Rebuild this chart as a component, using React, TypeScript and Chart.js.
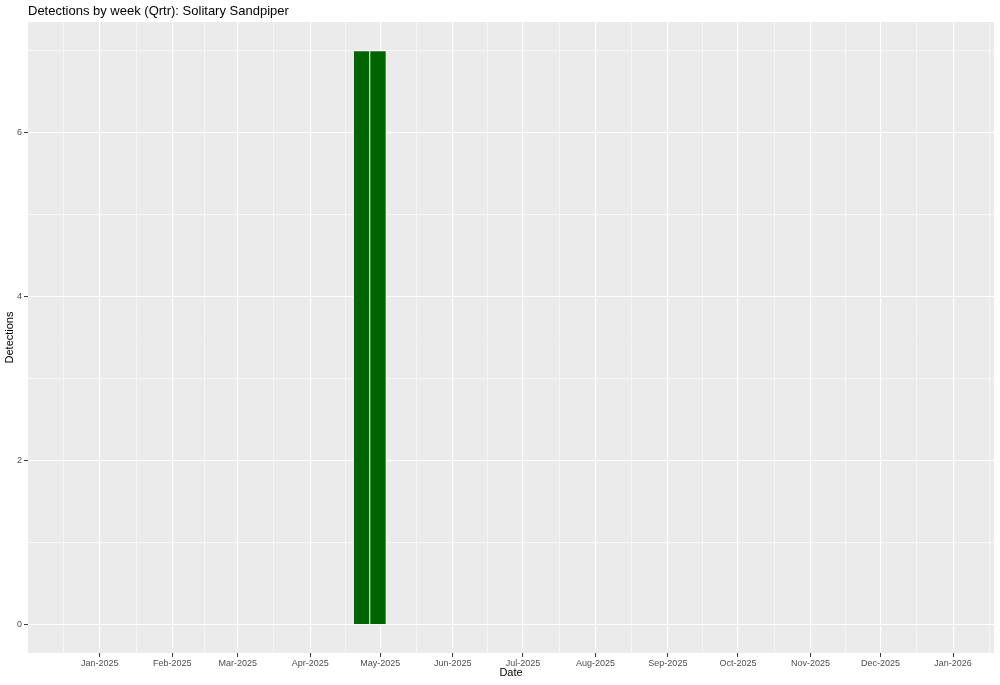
import React, { useEffect, useRef } from "react";
import { Chart, registerables } from "chart.js";

Chart.register(...registerables);

// ---- Data ----
const chartTitle = "Detections by week (Qrtr): Solitary Sandpiper";
const xTitle = "Date";
const yTitle = "Detections";

// week bars (centre dates) and detection counts
const weekDates = ["2025-04-23", "2025-04-30"];
const detections = [7, 7];

// major x breaks (month starts) and their labels
const monthBreaks = [
  "2025-01-01", "2025-02-01", "2025-03-01", "2025-04-01", "2025-05-01",
  "2025-06-01", "2025-07-01", "2025-08-01", "2025-09-01", "2025-10-01",
  "2025-11-01", "2025-12-01", "2026-01-01",
];
const monthLabels = [
  "Jan-2025", "Feb-2025", "Mar-2025", "Apr-2025", "May-2025", "Jun-2025",
  "Jul-2025", "Aug-2025", "Sep-2025", "Oct-2025", "Nov-2025", "Dec-2025",
  "Jan-2026",
];
// neighbouring breaks outside the panel, used for minor grid midpoints
const outerBreaks = ["2024-12-01", "2026-02-01"];

// axis limits (days relative to the limit dates)
const xMinDate = "2024-12-01";
const xMaxDate = "2026-01-18";
const yMin = -0.35;
const yMax = 7.35;
const yMajor = [0, 2, 4, 6];
const yMinor = [1, 3, 5, 7];

// ---- helpers ----
const ORIGIN = Date.UTC(2025, 0, 1);
const dayOf = (s: string) => {
  const [y, m, d] = s.split("-").map(Number);
  return (Date.UTC(y, m - 1, d) - ORIGIN) / 86400000;
};

const FONT = "'Liberation Sans', Arial, Helvetica, sans-serif";

export default function App() {
  const ref = useRef<HTMLCanvasElement | null>(null);

  useEffect(() => {
    if (!ref.current) return;

    const majors = monthBreaks.map(dayOf);
    const labelMap = new Map<number, string>();
    majors.forEach((v, i) => labelMap.set(v, monthLabels[i]));
    const allBreaks = [dayOf(outerBreaks[0]), ...majors, dayOf(outerBreaks[1])];
    const xMin = dayOf(xMinDate) + 0.3;
    const xMax = dayOf(xMaxDate) + 0.5;
    const minors: number[] = [];
    for (let i = 0; i < allBreaks.length - 1; i++) {
      const m = (allBreaks[i] + allBreaks[i + 1]) / 2;
      if (m > xMin && m < xMax) minors.push(m);
    }
    const xMinorSet = new Set(minors);
    const yMinorSet = new Set(yMinor);

    const bgPlugin = {
      id: "panelBg",
      beforeDraw(chart: any) {
        const { ctx, chartArea: a } = chart;
        ctx.save();
        ctx.fillStyle = "#EBEBEB";
        ctx.fillRect(a.left, a.top, a.right - a.left, a.bottom - a.top);
        ctx.restore();
      },
      afterDraw(chart: any) {
        const { ctx, chartArea: a } = chart;
        ctx.save();
        ctx.fillStyle = "#000000";
        ctx.font = `13px ${FONT}`;
        ctx.textAlign = "left";
        ctx.textBaseline = "alphabetic";
        ctx.fillText(chartTitle, a.left, 15);

        ctx.font = `11px ${FONT}`;
        ctx.textAlign = "center";
        ctx.textBaseline = "middle";
        ctx.fillText(xTitle, (a.left + a.right) / 2, 673);

        ctx.translate(9.5, (a.top + a.bottom) / 2);
        ctx.rotate(-Math.PI / 2);
        ctx.fillText(yTitle, 0, 0);
        ctx.restore();
      },
    };

    const chart = new Chart(ref.current, {
      type: "bar",
      data: {
        datasets: [
          {
            data: weekDates.map((d, i) => ({ x: dayOf(d), y: detections[i] })),
            backgroundColor: "#006400",
            borderColor: "#FFFFFF",
            borderWidth: 0.8,
            barPercentage: 1,
            categoryPercentage: 1,
          },
        ],
      },
      options: {
        animation: false,
        responsive: false,
        devicePixelRatio: 1,
        layout: { padding: { top: 22, right: 6, left: 0, bottom: 0 } },
        plugins: {
          legend: { display: false },
          tooltip: { enabled: false },
          title: { display: false },
        },
        scales: {
          x: {
            type: "linear",
            min: xMin,
            max: xMax,
            offset: false,
            border: { display: false },
            afterBuildTicks(scale: any) {
              const vals = [...majors, ...minors].sort((a, b) => a - b);
              scale.ticks = vals.map((v) => ({ value: v }));
            },
            afterFit(scale: any) {
              scale.height = 32;
            },
            grid: {
              offset: false,
              color: "#FFFFFF",
              lineWidth: (c: any) => (xMinorSet.has(c.tick?.value) ? 0.55 : 1.1),
              tickColor: (c: any) =>
                xMinorSet.has(c.tick?.value) ? "rgba(0,0,0,0)" : "#333333",
              tickLength: 4,
              tickWidth: 1,
              drawTicks: true,
            },
            ticks: {
              autoSkip: false,
              maxRotation: 0,
              minRotation: 0,
              align: "center",
              padding: 1,
              color: "#4D4D4D",
              font: { family: FONT, size: 9 },
              callback: (v: any) => labelMap.get(Number(v)) ?? "",
            },
          },
          y: {
            type: "linear",
            min: yMin,
            max: yMax,
            border: { display: false },
            afterBuildTicks(scale: any) {
              const vals = [...yMajor, ...yMinor].sort((a, b) => a - b);
              scale.ticks = vals.map((v) => ({ value: v }));
            },
            afterFit(scale: any) {
              scale.width = 28;
            },
            grid: {
              color: "#FFFFFF",
              lineWidth: (c: any) => (yMinorSet.has(c.tick?.value) ? 0.55 : 1.1),
              tickColor: (c: any) =>
                yMinorSet.has(c.tick?.value) ? "rgba(0,0,0,0)" : "#333333",
              tickLength: 4,
              tickWidth: 1,
            },
            ticks: {
              autoSkip: false,
              padding: 2,
              color: "#4D4D4D",
              font: { family: FONT, size: 9 },
              callback: (v: any) => (yMajor.includes(Number(v)) ? String(v) : ""),
            },
          },
        },
      } as any,
      plugins: [bgPlugin],
    });

    return () => chart.destroy();
  }, []);

  return (
    <div
      style={{
        position: "fixed",
        left: 0,
        top: 0,
        width: 1000,
        height: 685,
        background: "#FFFFFF",
      }}
    >
      <canvas
        ref={ref}
        width={1000}
        height={685}
        style={{ display: "block", width: 1000, height: 685 }}
      />
    </div>
  );
}
